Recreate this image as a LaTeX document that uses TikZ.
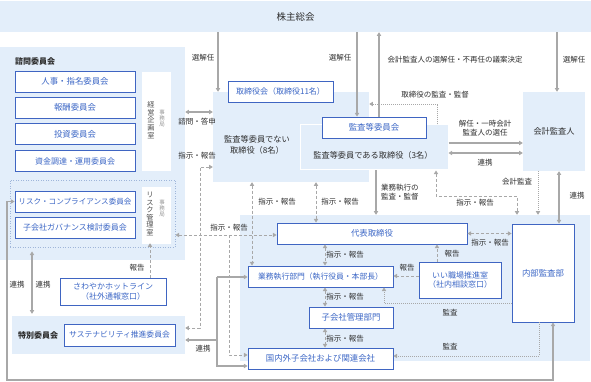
\documentclass[tikz,border=0pt]{standalone}
\usepackage{fontspec}
\setmainfont{Noto Sans CJK JP}
\usetikzlibrary{arrows.meta}
\definecolor{reg}{HTML}{E3EEFA}
\definecolor{bblue}{HTML}{3F65C2}
\definecolor{tblue}{HTML}{3C67C6}
\definecolor{lgray}{HTML}{A8A8A8}
\definecolor{dtext}{HTML}{2E2E2E}
\definecolor{dotb}{HTML}{9FB6DA}
\begin{document}
\begin{tikzpicture}[x=1pt,y=-1pt,
  >={Triangle[length=3.6pt,width=4.2pt]},
  region/.style={fill=reg,draw=none,inner sep=0pt},
  bx/.style={draw=bblue,line width=0.9pt,fill=white,text=tblue,inner sep=0pt,align=center,font=\fontsize{8.4}{10}\selectfont},
  lbl/.style={text=dtext,inner sep=0pt,align=center,font=\fontsize{7.5}{9}\selectfont},
  rlbl/.style={text=dtext,inner sep=0pt,align=center,font=\fontsize{8.2}{10.5}\selectfont},
  sol/.style={draw=lgray,line width=1.3pt},
  dsh/.style={draw=lgray,line width=0.9pt,dash pattern=on 3pt off 2pt},
  dts/.style={draw=lgray,line width=0.9pt,dash pattern=on 1pt off 1pt},
  vt/.style={text=dtext!85,inner sep=0pt,align=center,font=\fontsize{7.2}{7.6}\selectfont},
  vs/.style={text=lgray!90!black,inner sep=0pt,align=center,font=\fontsize{5.5}{6}\selectfont}
]
\fill[white] (0,0) rectangle (591,382);
\useasboundingbox (0,0) rectangle (591,382);

% ---------- regions ----------
\node[region,minimum width=591,minimum height=31] (sh) at (295.5,16.5) {};
\node[rlbl,font=\fontsize{9.5}{11}\selectfont] (shl) at (295.5,17) {株主総会};

\node[region,minimum width=185,minimum height=213] (adv) at (92.5,153.5) {};
\node[rlbl,anchor=west,font=\fontsize{8}{10}\selectfont\bfseries] (advl) at (15,61) {諮問委員会};
\node[draw=dotb,line width=0.9pt,dash pattern=on 1pt off 1.5pt,inner sep=0pt,minimum width=165,minimum height=67] (riskb) at (92.5,213.5) {};

\node[region,minimum width=173,minimum height=38] (sp) at (98.5,335) {};
\node[rlbl,font=\fontsize{8}{10}\selectfont\bfseries] (spl) at (38,335) {特別委員会};

\node[region,minimum width=156,minimum height=90] (brd) at (291,137) {};
\node[region,draw=white,line width=1pt,minimum width=148,minimum height=45] (aud) at (374,147.5) {};
\node[region,minimum width=62,minimum height=79] (acct) at (554,131.5) {};
\node[rlbl] (acctl) at (554,131) {会計監査人};
\node[region,minimum width=350,minimum height=146] (exec) at (415,288) {};

% ---------- boxes ----------
\node[bx,minimum width=120,minimum height=21] (b1) at (75,81.5) {人事・指名委員会};
\node[bx,minimum width=120,minimum height=21] (b2) at (75,107.5) {報酬委員会};
\node[bx,minimum width=120,minimum height=21] (b3) at (75,134) {投資委員会};
\node[bx,minimum width=120,minimum height=21,font=\fontsize{8}{10}\selectfont] (b4) at (75,161) {資金調達・運用委員会};
\node[fill=white,draw=white,minimum width=28,minimum height=98,inner sep=0pt] (keiei) at (156,121) {};
\node[vt] (keieit) at (151,120) {経\\営\\企\\画\\室};
\node[vs] (jm1) at (162,118) {事\\務\\局};

\node[bx,minimum width=120,minimum height=21,font=\fontsize{7.6}{10}\selectfont] (b5) at (75,201.5) {リスク・コンプライアンス委員会};
\node[bx,minimum width=120,minimum height=21,font=\fontsize{8}{10}\selectfont] (b6) at (75,227.5) {子会社ガバナンス検討委員会};
\node[fill=white,draw=white,minimum width=28,minimum height=56,inner sep=0pt] (riskroom) at (156,215) {};
\node[vt] (riskt) at (150,214) {リ\\ス\\ク\\管\\理\\室};
\node[vs] (jm2) at (162,208) {事\\務\\局};

\node[bx,minimum width=106,minimum height=27,font=\fontsize{8}{9.8}\selectfont] (hot) at (113,291.5) {さわやかホットライン\\（社外通報窓口）};
\node[bx,minimum width=111,minimum height=22,font=\fontsize{7.8}{10}\selectfont] (sust) at (119.5,335) {サステナビリティ推進委員会};

\node[bx,minimum width=105,minimum height=21,font=\fontsize{8}{10}\selectfont] (bod) at (280.5,91.5) {取締役会（取締役11名）};
\node[rlbl] (nonaud) at (257,145) {監査等委員でない\\取締役（8名）};
\node[bx,minimum width=104,minimum height=21] (audc) at (374,127.5) {監査等委員会};
\node[rlbl] (audl) at (373,155) {監査等委員である取締役（3名）};

\node[bx,minimum width=190,minimum height=21] (rep) at (372,233.5) {代表取締役};
\node[bx,minimum width=62,minimum height=98] (iad) at (543,273) {内部監査部};
\node[bx,minimum width=145,minimum height=21,font=\fontsize{7.8}{10}\selectfont] (bus) at (320.5,276.5) {業務執行部門（執行役員・本部長）};
\node[bx,minimum width=82,minimum height=36,font=\fontsize{8}{9.8}\selectfont] (good) at (460,280) {いい職場推進室\\（社内相談窓口）};
\node[bx,minimum width=84,minimum height=21] (sub) at (351,317.5) {子会社管理部門};
\node[bx,minimum width=145,minimum height=21] (grp) at (320.5,358.5) {国内外子会社および関連会社};

% ---------- helper coordinates ----------
\coordinate (kx1) at (218,0);
\coordinate (kx2) at (357,0);
\coordinate (kx3) at (379,0);
\coordinate (kx4) at (557,0);
\coordinate (k5) at (437,104);
\coordinate (ky6) at (0,143);
\coordinate (ky7) at (0,153);
\coordinate (kx8) at (376,0);
\coordinate (kx9) at (538,0);
\coordinate (kx10) at (559,0);
\coordinate (k11a) at (436,196);
\coordinate (k11b) at (517,196);
\coordinate (kx13) at (316,0);
\coordinate (kx14) at (252,0);
\coordinate (kx15) at (325,0);
\coordinate (kx18) at (437,0);
\coordinate (ky19) at (0,276);
\coordinate (k20) at (384,303);
\coordinate (k21) at (539,356);
\coordinate (ky22) at (0,112);
\coordinate (k23a) at (200,167);
\coordinate (k23b) at (200,328);
\coordinate (ky24) at (0,235);
\coordinate (k25a) at (229,235);
\coordinate (k25b) at (229,355);
\coordinate (k26a) at (217,277);
\coordinate (k26b) at (217,366);
\coordinate (ky26c) at (0,340);
\coordinate (kx27) at (32,0);
\coordinate (k28a) at (553,380);
\coordinate (k28b) at (7,380);
\coordinate (k28c) at (7,201.5);
\coordinate (kx29) at (150,0);

% ---------- connectors ----------
\draw[sol,->] (sh.south -| kx1) -- (brd.north -| kx1);
\draw[sol,->] (sh.south -| kx2) -- (audc.north -| kx2);
\draw[sol,->] (audc.north -| kx3) -- (sh.south -| kx3);
\draw[sol,->] (sh.south -| kx4) -- (acct.north -| kx4);
\draw[dts,->] (aud.north -| k5) -- (k5) -- (brd.east |- k5);
\draw[sol,->] (aud.east |- ky6) -- (acct.west |- ky6);
\draw[sol,<->] (aud.east |- ky7) -- (acct.west |- ky7);
\draw[sol,->] (aud.south -| kx8) -- (exec.north -| kx8);
\draw[dts,->] (acct.south -| kx9) -- (exec.north -| kx9);
\draw[sol,<->] (acct.south -| kx10) -- (iad.north -| kx10);
\draw[dsh,<->] (aud.south -| k11a) -- (k11a) -- (k11b) -- (exec.north -| k11b);
\draw[dsh,<->] (rep.east) -- (iad.west |- rep.east);
\draw[dsh,<->] (brd.south -| kx13) -- (rep.north -| kx13);
\draw[dsh,<->] (brd.south -| kx14) -- (bus.north -| kx14);
\draw[dsh,<->] (rep.south -| kx15) -- (bus.north -| kx15);
\draw[dsh,<->] (bus.south -| kx15) -- (sub.north -| kx15);
\draw[dsh,<->] (sub.south -| kx15) -- (grp.north -| kx15);
\draw[dsh,->] (good.north -| kx18) -- (rep.south -| kx18);
\draw[dsh,->] (good.west |- ky19) -- (bus.east |- ky19);
\draw[dts,->] (iad.west |- k20) -- (k20) -- (bus.south -| k20);
\draw[dts,->] (iad.south -| k21) -- (k21) -- (grp.east |- k21);
\draw[sol,<->] (adv.east |- ky22) -- (brd.west |- ky22);
\draw[dsh,<->] (brd.west |- k23a) -- (k23a) -- (k23b) -- (sp.east |- k23b);
\draw[dsh,<->] (riskb.east |- ky24) -- (rep.west |- ky24);
\draw[dsh,->] (k25a) -- (k25b) -- (grp.west |- k25b);
\draw[sol,->] (k26a) -- (bus.west |- k26a);
\draw[sol,->] (k26a) -- (k26b) -- (grp.west |- k26b);
\draw[sol,->] (k26a |- ky26c) -- (sp.east |- ky26c);
\draw[sol,<->,shorten <=4pt,shorten >=2pt] (riskb.south -| kx27) -- (sp.north -| kx27);
\draw[sol,<->] (iad.south -| k28a) -- (k28a) -- (k28b) -- (k28c) -- (b5.west |- k28c);
\draw[dsh,->] (hot.north -| kx29) -- (riskroom.south -| kx29);

% ---------- labels ----------
\node[lbl] (l1) at (203,58) {選解任};
\node[lbl] (l2) at (340,58) {選解任};
\node[lbl] (l3) at (455,60) {会計監査人の選解任・不再任の議案決定};
\node[lbl] (l4) at (574,60) {選解任};
\node[lbl] (l5) at (435,95) {取締役の監査・監督};
\node[lbl] (l6) at (485,128) {解任・一時会計\\監査人の選任};
\node[lbl] (l7) at (485,163) {連携};
\node[lbl,anchor=west,align=left] (l8) at (381,192) {業務執行の\\監査・監督};
\node[lbl] (l9) at (517,182) {会計監査};
\node[lbl] (l10) at (577,196) {連携};
\node[lbl] (l11) at (475,203) {指示・報告};
\node[lbl] (l12) at (490,243) {指示・報告};
\node[lbl] (l13) at (340,202) {指示・報告};
\node[lbl] (l14) at (277,202) {指示・報告};
\node[lbl] (l15) at (345,255) {指示・報告};
\node[lbl] (l16) at (345,297) {指示・報告};
\node[lbl] (l17) at (345,339) {指示・報告};
\node[lbl] (l18) at (452,254) {報告};
\node[lbl] (l19) at (407,268) {報告};
\node[lbl] (l20) at (450,313) {監査};
\node[lbl] (l21) at (450,347) {監査};
\node[lbl] (l22) at (197,122) {諮問・答申};
\node[lbl] (l23) at (197,156) {指示・報告};
\node[lbl] (l24) at (229,228) {指示・報告};
\node[lbl] (l26) at (203,349) {連携};
\node[lbl] (l27a) at (17,285) {連携};
\node[lbl] (l27b) at (43,285) {連携};
\node[lbl] (l29) at (137,268) {報告};
\end{tikzpicture}
\end{document}
